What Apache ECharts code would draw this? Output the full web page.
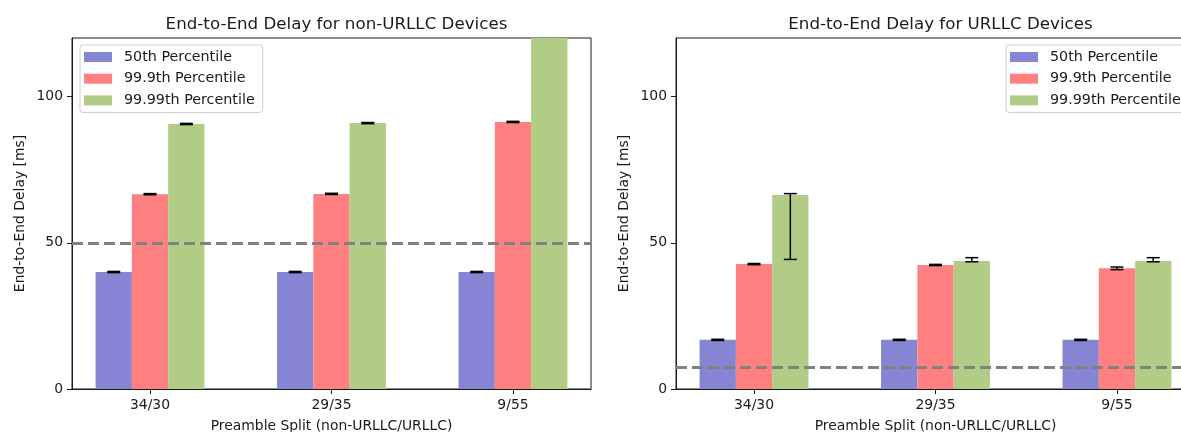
<!DOCTYPE html>
<html>
<head>
<meta charset="utf-8">
<script src="https://cdn.jsdelivr.net/npm/echarts@6/dist/echarts.min.js"></script>
<style>
  html, body { margin: 0; padding: 0; background: #fff; }
  #chart { width: 1181px; height: 432px; }
</style>
</head>
<body>
<div id="chart"></div>
<script>
// Preamble splits (non-URLLC / URLLC)
const categories = ['34/30', '29/35', '9/55'];
const percentileNames = ['50th Percentile', '99.9th Percentile', '99.99th Percentile'];
const yTicks = [0, 50, 100];

// Non-URLLC delays [ms]
const nonUrllcP50 = [40.0, 40.0, 40.0];
const nonUrllcP999 = [66.6, 66.7, 91.3];
const nonUrllcP9999 = [90.6, 90.9, 125.0];
const nonUrllcP50Low = [39.8, 39.8, 39.8];
const nonUrllcP50High = [40.2, 40.2, 40.2];
const nonUrllcP999Low = [66.4, 66.5, 91.1];
const nonUrllcP999High = [66.8, 66.9, 91.5];
const nonUrllcP9999Low = [90.4, 90.7, 124.0];
const nonUrllcP9999High = [90.8, 91.1, 126.0];
const nonUrllcTarget = 50;

// URLLC delays [ms]
const urllcP50 = [16.8, 16.8, 16.8];
const urllcP999 = [42.7, 42.4, 41.3];
const urllcP9999 = [66.3, 43.8, 43.8];
const urllcP50Low = [16.6, 16.6, 16.6];
const urllcP50High = [17.0, 17.0, 17.0];
const urllcP999Low = [42.5, 42.2, 40.8];
const urllcP999High = [42.9, 42.6, 41.7];
const urllcP9999Low = [44.3, 43.5, 43.5];
const urllcP9999High = [66.8, 44.9, 44.9];
const urllcTarget = 7.5;

const colors = ['#8585d3', '#ff8080', '#b1cc84'];
const BAR_W = 0.2;          // bar width in category units
const X_MIN = -0.43, X_MAX = 2.43;
const Y_MAX = 120;
const FONT = 'DejaVu Sans';
const TEXT = '#1a1a1a';

const chart = echarts.init(document.getElementById('chart'), null, { renderer: 'canvas' });

function barRenderer(slot) {
  return function (params, api) {
    const c = api.value(0), v = api.value(1);
    const x0 = c + (slot - 1) * BAR_W - BAR_W / 2;
    const p0 = api.coord([x0, v]);
    const p1 = api.coord([x0 + BAR_W, 0]);
    const cs = params.coordSys;
    const shape = echarts.graphic.clipRectByRect(
      { x: p0[0], y: p0[1], width: p1[0] - p0[0], height: p1[1] - p0[1] },
      { x: cs.x, y: cs.y, width: cs.width, height: cs.height }
    );
    if (!shape) return null;
    return { type: 'rect', shape: shape, style: { fill: api.visual('color') } };
  };
}

function errorRenderer(params, api) {
  const c = api.value(0), slot = api.value(1), lo = api.value(2), hi = api.value(3);
  if (lo > Y_MAX) return null;
  const x = c + (slot - 1) * BAR_W;
  const top = api.coord([x, Math.min(hi, Y_MAX)]);
  const bot = api.coord([x, lo]);
  const cap = 6.5;
  const style = { stroke: '#000', lineWidth: 1.5 };
  const children = [
    { type: 'line', shape: { x1: top[0], y1: top[1], x2: bot[0], y2: bot[1] }, style: style },
    { type: 'line', shape: { x1: bot[0] - cap, y1: bot[1], x2: bot[0] + cap, y2: bot[1] }, style: style }
  ];
  if (hi <= Y_MAX) {
    children.push({ type: 'line', shape: { x1: top[0] - cap, y1: top[1], x2: top[0] + cap, y2: top[1] }, style: style });
  }
  return { type: 'group', children: children };
}

function panelSeries(gi, values, lows, highs, target) {
  const out = values.map((vals, s) => ({
    name: percentileNames[s],
    type: 'custom',
    xAxisIndex: gi, yAxisIndex: gi,
    renderItem: barRenderer(s),
    itemStyle: { color: colors[s] },
    encode: { x: 0, y: 1 },
    data: vals.map((v, i) => [i, v]),
    z: 2,
    silent: true
  }));
  const errData = [];
  values.forEach((vals, s) => {
    vals.forEach((v, i) => errData.push([i, s, lows[s][i], highs[s][i]]));
  });
  out.push({
    name: 'err' + gi,
    type: 'custom',
    xAxisIndex: gi, yAxisIndex: gi,
    renderItem: errorRenderer,
    encode: { x: 0, y: [2, 3] },
    data: errData,
    z: 5,
    silent: true
  });
  out.push({
    name: 'target' + gi,
    type: 'line',
    xAxisIndex: gi, yAxisIndex: gi,
    data: [],
    z: 4,
    markLine: {
      silent: true,
      symbol: 'none',
      label: { show: false },
      lineStyle: { color: '#808080', width: 3, type: [11, 5] },
      data: [{ yAxis: target }]
    }
  });
  return out;
}

function xAxisFor(gi) {
  return {
    gridIndex: gi,
    type: 'value',
    min: X_MIN, max: X_MAX,
    name: 'Preamble Split (non-URLLC/URLLC)',
    nameLocation: 'middle',
    nameGap: 30,
    nameTextStyle: { fontFamily: FONT, fontSize: 13.9, color: TEXT },
    axisLine: { show: true, onZero: false, lineStyle: { color: TEXT, width: 1 } },
    axisTick: { show: true, length: 5, customValues: [0, 1, 2], lineStyle: { color: TEXT } },
    axisLabel: {
      customValues: [0, 1, 2],
      margin: 9,
      fontFamily: FONT, fontSize: 13.9, color: TEXT,
      formatter: v => categories[Math.round(v)]
    },
    splitLine: { show: false }
  };
}

function yAxisFor(gi) {
  return {
    gridIndex: gi,
    type: 'value',
    min: 0, max: Y_MAX,
    name: 'End-to-End Delay [ms]',
    nameLocation: 'middle',
    nameGap: 45,
    nameTextStyle: { fontFamily: FONT, fontSize: 13.9, color: TEXT },
    axisLine: { show: true, onZero: false, lineStyle: { color: TEXT, width: 1 } },
    axisTick: { show: true, length: 5, customValues: yTicks, lineStyle: { color: TEXT } },
    axisLabel: { customValues: yTicks, margin: 9, fontFamily: FONT, fontSize: 13.9, color: TEXT },
    splitLine: { show: false }
  };
}

function legendFor(left) {
  return {
    orient: 'vertical',
    left: left, top: 45,
    data: percentileNames,
    icon: 'rect',
    itemWidth: 28, itemHeight: 10,
    itemGap: 7.7,
    padding: [5, 8, 5, 4],
    borderColor: '#cccccc', borderWidth: 1, borderRadius: 3,
    backgroundColor: 'rgba(255,255,255,0.8)',
    selectedMode: false,
    textStyle: { fontFamily: FONT, fontSize: 14.3, color: TEXT, lineHeight: 14, padding: [0, 0, 0, 7] }
  };
}

function gridAt(left) {
  return {
    left: left, top: 38, width: 519, height: 351,
    outerBoundsMode: 'none', containLabel: false,
    show: true, borderColor: TEXT, borderWidth: 1, backgroundColor: 'transparent'
  };
}

chart.setOption({
  animation: false,
  backgroundColor: '#fff',
  title: [
    { text: 'End-to-End Delay for non-URLLC Devices', left: 331.5, top: 11, textAlign: 'center',
      textStyle: { fontFamily: FONT, fontSize: 16.7, fontWeight: 'normal', color: TEXT } },
    { text: 'End-to-End Delay for URLLC Devices', left: 935.5, top: 11, textAlign: 'center',
      textStyle: { fontFamily: FONT, fontSize: 16.7, fontWeight: 'normal', color: TEXT } }
  ],
  legend: [legendFor(80), legendFor(1006)],
  grid: [gridAt(72), gridAt(676)],
  xAxis: [xAxisFor(0), xAxisFor(1)],
  yAxis: [yAxisFor(0), yAxisFor(1)],
  series: [
    ...panelSeries(0,
      [nonUrllcP50, nonUrllcP999, nonUrllcP9999],
      [nonUrllcP50Low, nonUrllcP999Low, nonUrllcP9999Low],
      [nonUrllcP50High, nonUrllcP999High, nonUrllcP9999High],
      nonUrllcTarget),
    ...panelSeries(1,
      [urllcP50, urllcP999, urllcP9999],
      [urllcP50Low, urllcP999Low, urllcP9999Low],
      [urllcP50High, urllcP999High, urllcP9999High],
      urllcTarget)
  ]
});
</script>
</body>
</html>
